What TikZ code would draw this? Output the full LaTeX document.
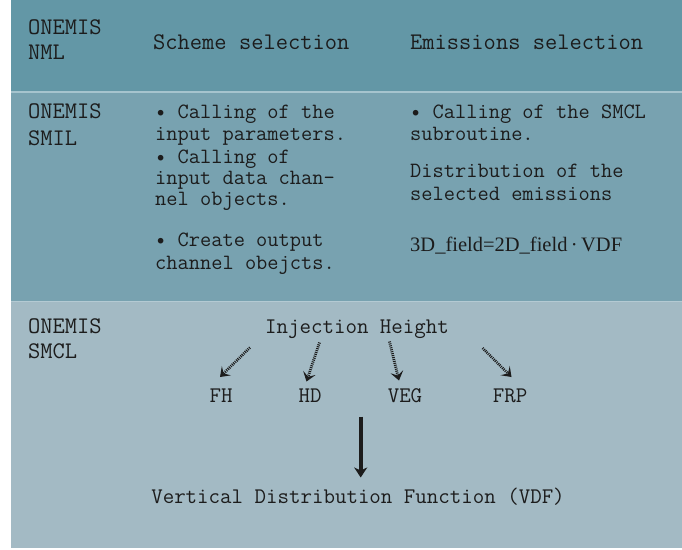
\documentclass[tikz,border=0pt]{standalone}
\usepackage{fontspec}
\newfontfamily\timesf{Liberation Serif}
\usetikzlibrary{arrows.meta}
\definecolor{bandA}{HTML}{6397A6}
\definecolor{bandB}{HTML}{78A2B0}
\definecolor{bandC}{HTML}{A3BAC4}
\definecolor{sepA}{HTML}{A6C4CE}
\definecolor{sepB}{HTML}{B4CAD3}
\definecolor{ink}{HTML}{1C1C1C}
\begin{document}
\begin{tikzpicture}[x=1pt,y=-1pt,
  big/.style={font=\ttfamily\fontsize{23.8}{25}\selectfont, text=ink, inner sep=0pt, anchor=base west},
  txt/.style={font=\ttfamily\fontsize{21.8}{22}\selectfont, text=ink, inner sep=0pt, anchor=base west},
  ctr/.style={font=\ttfamily\fontsize{22.3}{23}\selectfont, text=ink, inner sep=0pt, anchor=base},
  formula/.style={font=\timesf\fontsize{20.5}{22}\selectfont, text=ink, inner sep=0pt, anchor=base west},
  hatch/.style={draw=ink, line width=2.8pt, dash pattern=on 1pt off 1pt,
    -{Stealth[length=9pt,width=13pt,inset=4pt]}},
  solidarrow/.style={draw=ink, line width=3.6pt, -{Stealth[length=10pt,width=13pt,inset=3pt]}}
]
\useasboundingbox (0,0) rectangle (682,549);
\fill[white] (0,0) rectangle (682,549);
\fill[bandA] (11,0) rectangle (682,91);
\fill[sepA] (11,91) rectangle (682,92.5);
\fill[bandB] (11,92.5) rectangle (682,300.5);
\fill[sepB] (11,300.5) rectangle (682,302);
\fill[bandC] (11,302) rectangle (682,548);

% band 1
\node[big] (nml1) at (28,34) {ONEMIS};
\node[big] (nml2) at (28,59) {NML};
\node[big] (scheme) at (153,49) {Scheme selection};
\node[big] (emis) at (410,49) {Emissions selection};

% band 2
\node[big] (smil1) at (28,118) {ONEMIS};
\node[big] (smil2) at (28,145) {SMIL};
\node[txt] (b1) at (155,118) {• Calling of the};
\node[txt] (b2) at (155,140) {input parameters.};
\node[txt] (b3) at (155,163) {• Calling of};
\node[txt] (b4) at (155,184) {input data chan-};
\node[txt] (b5) at (155,205) {nel objects.};
\node[txt] (b6) at (155,246) {• Create output};
\node[txt] (b7) at (155,269) {channel obejcts.};
\node[txt] (r1) at (410,118) {• Calling of the SMCL};
\node[txt] (r2) at (410,140) {subroutine.};
\node[txt] (r3) at (410,177) {Distribution of the};
\node[txt] (r4) at (410,200) {selected emissions};
\node[formula] (f) at (410,251) {3D\_field=2D\_field\,·\,VDF};

% band 3
\node[big] (smcl1) at (28,333) {ONEMIS};
\node[big] (smcl2) at (28,358) {SMCL};
\node[ctr] (ih) at (357,333) {Injection Height};
\node[ctr] (fh) at (221,402) {FH};
\node[ctr] (hd) at (310,402) {HD};
\node[ctr] (veg) at (405,402) {VEG};
\node[ctr] (frp) at (510,402) {FRP};
\node[ctr] (vdf) at (358,503) {Vertical Distribution Function (VDF)};

\coordinate (s1) at (250,347.5);
\coordinate (e1) at (220,377);
\coordinate (s2) at (319.5,342.5);
\coordinate (e2) at (306.5,381.5);
\coordinate (s3) at (389.5,341.5);
\coordinate (e3) at (399,380.5);
\coordinate (s4) at (482.5,348);
\coordinate (e4) at (511.5,377);
\draw[hatch] (s1) -- (e1);
\draw[hatch] (s2) -- (e2);
\draw[hatch] (s3) -- (e3);
\draw[hatch] (s4) -- (e4);

\coordinate (vs) at (360.7,416.5);
\coordinate (ve) at (360.7,477.5);
\draw[solidarrow] (vs) -- (ve);
\end{tikzpicture}
\end{document}
